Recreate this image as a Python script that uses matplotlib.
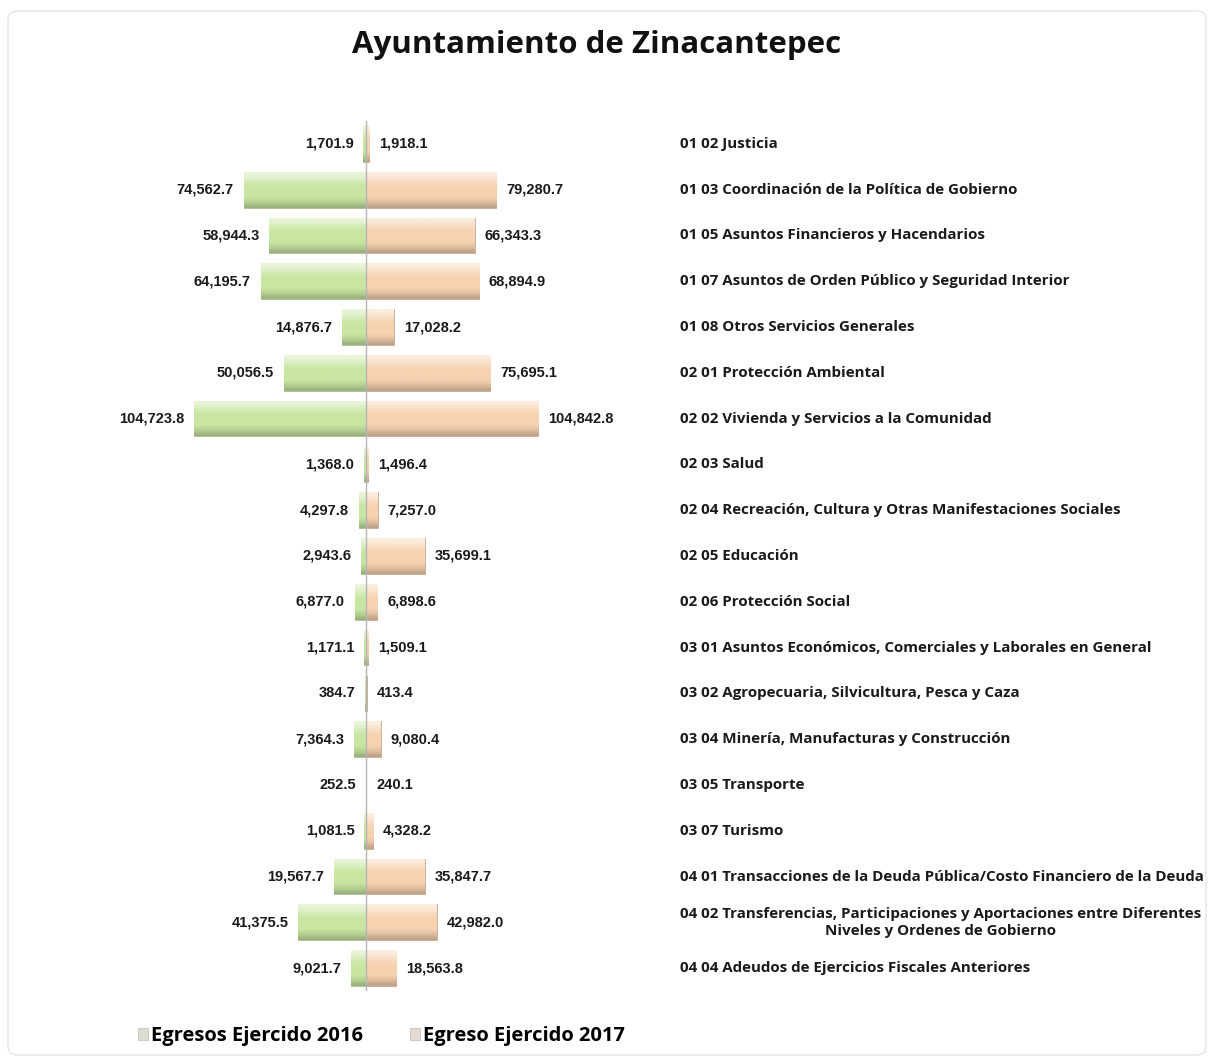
import numpy as np
import matplotlib
matplotlib.use("Agg")
import matplotlib.pyplot as plt
from matplotlib.colors import to_rgb
from matplotlib.patches import FancyBboxPatch, Patch
from matplotlib.transforms import blended_transform_factory

categories = [
    "01 02 Justicia",
    "01 03 Coordinación de la Política de Gobierno",
    "01 05 Asuntos Financieros y Hacendarios",
    "01 07 Asuntos de Orden Público y Seguridad Interior",
    "01 08 Otros Servicios Generales",
    "02 01 Protección Ambiental",
    "02 02 Vivienda y Servicios a la Comunidad",
    "02 03 Salud",
    "02 04 Recreación, Cultura y Otras Manifestaciones Sociales",
    "02 05 Educación",
    "02 06 Protección Social",
    "03 01 Asuntos Económicos, Comerciales y Laborales en General",
    "03 02 Agropecuaria, Silvicultura, Pesca y Caza",
    "03 04 Minería, Manufacturas y Construcción",
    "03 05 Transporte",
    "03 07 Turismo",
    "04 01 Transacciones de la Deuda Pública/Costo Financiero de la Deuda",
    "04 02 Transferencias, Participaciones y Aportaciones entre Diferentes\nNiveles y Ordenes de Gobierno",
    "04 04 Adeudos de Ejercicios Fiscales Anteriores",
]

egresos_2016 = [1701.9, 74562.7, 58944.3, 64195.7, 14876.7, 50056.5, 104723.8,
                1368.0, 4297.8, 2943.6, 6877.0, 1171.1, 384.7, 7364.3, 252.5,
                1081.5, 19567.7, 41375.5, 9021.7]
egresos_2017 = [1918.1, 79280.7, 66343.3, 68894.9, 17028.2, 75695.1, 104842.8,
                1496.4, 7257.0, 35699.1, 6898.6, 1509.1, 413.4, 9080.4, 240.1,
                4328.2, 35847.7, 42982.0, 18563.8]

series_labels = ["Egresos Ejercido 2016", "Egreso Ejercido 2017"]
green = "#c8e6a2"
peach = "#f7d2b0"

W, H = 1214, 1061
fig = plt.figure(figsize=(W / 100, H / 100), dpi=100)
fig.patch.set_facecolor("white")

# outer frame
fig.add_artist(FancyBboxPatch((8 / W, 6 / H), 1198 / W, 1044 / H,
                              boxstyle="round,pad=0,rounding_size=0.008",
                              transform=fig.transFigure, fill=False,
                              edgecolor="#e6e6e6", linewidth=1.0))

ax = fig.add_axes([0.0, 1 - 991 / H, 640 / W, 870 / H])
scale = 172 / 104723.8  # px per unit
n = len(categories)
y = np.arange(n)
ax.axis("off")


def shaded(base):
    c = np.array(to_rgb(base))
    prof = np.array([0.6, 0.5, 0.3, 0.12, 0.0, 0.0, 0.0, 0.0, -0.05, -0.12, -0.22])
    rows = [c + (1 - c) * p if p >= 0 else c * (1 + p) for p in prof]
    return np.clip(np.array(rows), 0, 1)[:, None, :]


bh = 0.78
bars16 = ax.barh(y, [-v for v in egresos_2016], height=bh, color=green,
                 edgecolor="#a9b98e", linewidth=0.6, zorder=2)
bars17 = ax.barh(y, egresos_2017, height=bh, color=peach,
                 edgecolor="#c2a890", linewidth=0.6, zorder=2)

for bars, col in [(bars16, green), (bars17, peach)]:
    img = shaded(col)
    for p in bars:
        x0, y0 = p.get_x(), p.get_y()
        w, h = p.get_width(), p.get_height()
        im = ax.imshow(img, extent=[min(x0, x0 + w), max(x0, x0 + w), y0 + h, y0],
                       aspect="auto", interpolation="bilinear", zorder=2.5)
        im.set_clip_path(p)

ax.axvline(0, color="#b5b5b5", linewidth=1.0, zorder=3)
ax.set_xlim(-366 / scale, (640 - 366) / scale)
ax.set_ylim(n - 0.5, -0.5)

for i in range(n):
    ax.annotate(f"{egresos_2016[i]:,.1f}", (-egresos_2016[i], y[i]),
                xytext=(-7, 0), textcoords="offset points", ha="right",
                va="center", fontsize=10.5, fontweight="bold",
                family="Liberation Sans", color="#1a1a1a")
    ax.annotate(f"{egresos_2017[i]:,.1f}", (egresos_2017[i], y[i]),
                xytext=(7, 0), textcoords="offset points", ha="left",
                va="center", fontsize=10.5, fontweight="bold",
                family="Liberation Sans", color="#1a1a1a")

tr = blended_transform_factory(fig.transFigure, ax.transData)
for i, c in enumerate(categories):
    ax.text(680 / W, y[i], c, transform=tr, ha="left", va="center",
            multialignment="center", fontsize=10.9, fontweight="bold",
            family="Open Sans", color="#1a1a1a", linespacing=1.3)

fig.text(597 / W, 1 - 45 / H, "Ayuntamiento de Zinacantepec", ha="center",
         va="center", fontsize=22.5, fontweight="bold", family="Open Sans",
         color="#111111")

handles = [Patch(facecolor="#dcdcd0", edgecolor="#c0c0b0", linewidth=0.5),
           Patch(facecolor="#e4dcd4", edgecolor="#c0b8b0", linewidth=0.5)]
fig.legend(handles, series_labels, loc="center left",
           bbox_to_anchor=(120 / W, 1 - 1036 / H), ncol=2, frameon=False,
           handlelength=0.5, handleheight=0.5, handletextpad=0.15,
           columnspacing=2.3, prop={"family": "Open Sans", "weight": "bold",
                                    "size": 14.5})

fig.savefig("out.png", dpi=100, facecolor="white")
